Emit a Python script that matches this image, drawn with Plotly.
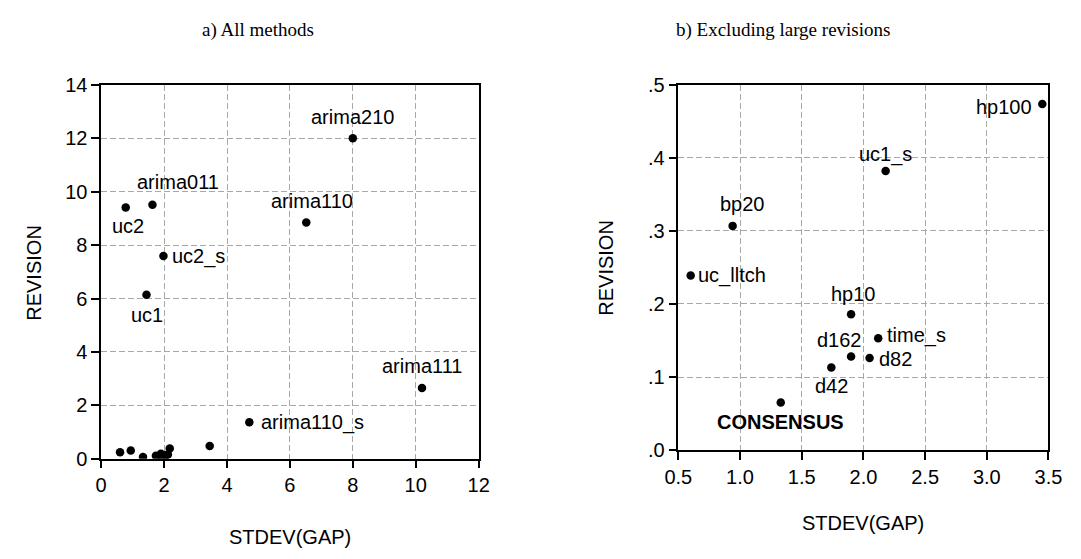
import plotly.graph_objects as go

# Methods and their statistics
methods = ["uc2", "arima011", "uc2_s", "uc1", "arima210", "arima110", "arima111",
           "arima110_s", "uc_lltch", "bp20", "CONSENSUS", "d42", "hp10", "d162",
           "d82", "time_s", "uc1_s", "hp100"]
stdev_gap = [0.78, 1.63, 1.98, 1.44, 8.00, 6.52, 10.20, 4.71, 0.60, 0.94, 1.33,
             1.74, 1.90, 1.90, 2.05, 2.12, 2.18, 3.45]
revision = [9.41, 9.51, 7.59, 6.14, 12.00, 8.85, 2.65, 1.36, 0.239, 0.307, 0.065,
            0.113, 0.186, 0.128, 0.126, 0.153, 0.382, 0.474]

# Methods labelled in panel a (the rest sit in the cluster near the origin)
labelled_a = ["uc2", "arima011", "uc2_s", "uc1", "arima210", "arima110",
              "arima111", "arima110_s"]
# Panel b keeps only the methods with small revisions
small_limit = 1.0

# Axis ticks
xticks_a = [0, 2, 4, 6, 8, 10, 12]
yticks_a = [0, 2, 4, 6, 8, 10, 12, 14]
xticks_b = [0.5, 1.0, 1.5, 2.0, 2.5, 3.0, 3.5]
xticktext_b = ["0.5", "1.0", "1.5", "2.0", "2.5", "3.0", "3.5"]
yticks_b = [0.0, 0.1, 0.2, 0.3, 0.4, 0.5]
yticktext_b = [".0", ".1", ".2", ".3", ".4", ".5"]

# Label placement: (xanchor, yanchor, xshift, yshift) in pixels
place_a = {
    "uc2": ("center", "middle", 2, -19),
    "arima011": ("center", "middle", 26, 23),
    "uc2_s": ("left", "middle", 7, 0),
    "uc1": ("center", "middle", 1, -20),
    "arima210": ("center", "middle", 0, 21),
    "arima110": ("center", "middle", 6, 21),
    "arima111": ("center", "middle", 0, 22),
    "arima110_s": ("left", "middle", 10, 0),
}
place_b = {
    "hp100": ("right", "middle", -8, -3),
    "uc1_s": ("center", "middle", 0, 17),
    "bp20": ("center", "middle", 10, 22),
    "uc_lltch": ("left", "middle", 5, 0),
    "hp10": ("center", "middle", 2, 20),
    "time_s": ("left", "middle", 7, 3),
    "d162": ("center", "middle", -12, 17),
    "d82": ("left", "middle", 7, -1),
    "d42": ("center", "middle", 0, -18),
    "CONSENSUS": ("center", "middle", 0, -19),
}

W, H = 1081, 559
SANS = "Arial, Liberation Sans, sans-serif"
SERIF = "Times New Roman, Liberation Serif, serif"


def px_x(p):
    return p / W


def px_y(p):
    return 1 - p / H


fig = go.Figure()

# Panel a: every method
fig.add_trace(go.Scatter(
    x=stdev_gap, y=revision, mode="markers",
    marker=dict(color="black", size=8.5),
    xaxis="x", yaxis="y", hoverinfo="skip", showlegend=False,
))

# Panel b: small revisions only
xb = [g for g, r in zip(stdev_gap, revision) if r < small_limit]
yb = [r for r in revision if r < small_limit]
mb = [m for m, r in zip(methods, revision) if r < small_limit]
fig.add_trace(go.Scatter(
    x=xb, y=yb, mode="markers",
    marker=dict(color="black", size=8.5),
    xaxis="x2", yaxis="y2", hoverinfo="skip", showlegend=False,
))

annotations = []
for m, gx, ry in zip(methods, stdev_gap, revision):
    if m in labelled_a:
        xa, ya, dx, dy = place_a[m]
        annotations.append(dict(
            x=gx, y=ry, xref="x", yref="y", text=m, showarrow=False,
            xanchor=xa, yanchor=ya, xshift=dx, yshift=dy,
            font=dict(family=SANS, size=20, color="black"),
        ))
for m, gx, ry in zip(mb, xb, yb):
    xa, ya, dx, dy = place_b[m]
    txt = "<b>%s</b>" % m if m == "CONSENSUS" else m
    annotations.append(dict(
        x=gx, y=ry, xref="x2", yref="y2", text=txt, showarrow=False,
        xanchor=xa, yanchor=ya, xshift=dx, yshift=dy,
        font=dict(family=SANS, size=20, color="black"),
    ))

# Panel titles and axis titles
texts = [
    ("a) All methods", 250, 20, 0, SERIF, 19),
    ("b) Excluding large revisions", 789, 20, 0, SERIF, 19),
    ("STDEV(GAP)", 283, 548, 0, SANS, 20),
    ("STDEV(GAP)", 872, 533, 0, SANS, 20),
    ("REVISION", 21, 272, -90, SANS, 20),
    ("REVISION", 608, 267, -90, SANS, 20),
]
for t, px, py, rot, fam, sz in texts:
    annotations.append(dict(
        x=px_x(px), y=px_y(py), xref="paper", yref="paper", text=t,
        showarrow=False, xanchor="center", yanchor="middle", textangle=rot,
        font=dict(family=fam, size=sz, color="black"),
    ))

axis_common = dict(
    showline=True, linecolor="black", linewidth=1.5, mirror=True,
    ticks="outside", ticklen=8, tickwidth=1.5, tickcolor="black",
    showgrid=True, gridcolor="#a8a8a8", gridwidth=1, griddash="6px,3px",
    zeroline=False, tickfont=dict(family=SANS, size=20, color="black"),
)

fig.update_layout(
    width=W, height=H,
    margin=dict(l=0, r=0, t=0, b=0),
    paper_bgcolor="white", plot_bgcolor="white",
    showlegend=False,
    xaxis=dict(domain=[px_x(89.5), px_x(477)], range=[0, 12],
               tickvals=xticks_a, anchor="y", **axis_common),
    yaxis=dict(domain=[px_y(466), px_y(77)], range=[0, 14],
               tickvals=yticks_a, anchor="x", **axis_common),
    xaxis2=dict(domain=[px_x(682), px_x(1062)], range=[0.5, 3.5],
                tickvals=xticks_b, ticktext=xticktext_b, anchor="y2",
                **axis_common),
    yaxis2=dict(domain=[px_y(457), px_y(77)], range=[0, 0.5],
                tickvals=yticks_b, ticktext=yticktext_b, anchor="x2",
                **axis_common),
    annotations=annotations,
)

fig.write_html("out.html")
